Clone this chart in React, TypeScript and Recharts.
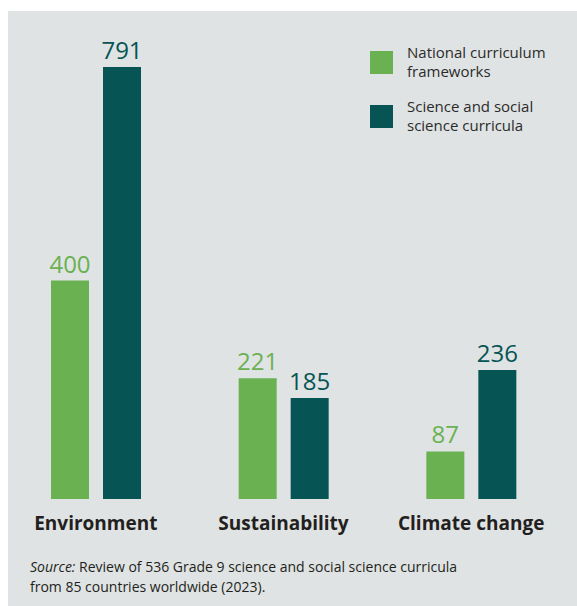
import { BarChart, Bar, XAxis, YAxis, LabelList } from "recharts";

const categories = ["Environment", "Sustainability", "Climate change"];
const nationalFrameworks = [400, 221, 87];
const scienceCurricula = [791, 185, 236];

const GREEN = "#6ab152";
const TEAL = "#065453";
const FONT = "'Open Sans', 'Noto Sans', sans-serif";

const data = categories.map((name, i) => ({
  name,
  national: nationalFrameworks[i],
  science: scienceCurricula[i],
}));

function Legend() {
  const items = [
    { color: GREEN, lines: ["National curriculum", "frameworks"] },
    { color: TEAL, lines: ["Science and social", "science curricula"] },
  ];
  return (
    <div style={{ position: "absolute", left: 370, top: 43, fontFamily: FONT }}>
      {items.map((it, i) => (
        <div key={i} style={{ display: "flex", alignItems: "center", marginBottom: 16 }}>
          <div style={{ width: 23, height: 23, background: it.color, marginRight: 14 }} />
          <div style={{ fontSize: 15, lineHeight: "19px", color: "#2b2b2b" }}>
            {it.lines.map((l) => (
              <div key={l}>{l}</div>
            ))}
          </div>
        </div>
      ))}
    </div>
  );
}

export default function App() {
  return (
    <div style={{ position: "absolute", left: 0, top: 0, width: 577, height: 606, background: "#fff" }}>
      <div style={{ position: "absolute", left: 8, top: 11, right: 0, bottom: 0, background: "#dfe3e3" }} />
      <div style={{ position: "absolute", left: 0, top: 0 }}>
        <BarChart
          width={577}
          height={606}
          data={data}
          margin={{ top: 62, right: 12, left: 2, bottom: 77 }}
          barSize={38}
          barGap={14}
        >
          <XAxis
            dataKey="name"
            axisLine={false}
            tickLine={false}
            height={30}
            tick={{ fontFamily: FONT, fontSize: 19, fontWeight: 700, fill: "#231f20" }}
            tickMargin={12}
          />
          <YAxis hide domain={[0, 800]} />
          <Bar dataKey="national" fill={GREEN} isAnimationActive={false}>
            <LabelList dataKey="national" position="top" offset={8} fill={GREEN} fontSize={24} fontFamily={FONT} />
          </Bar>
          <Bar dataKey="science" fill={TEAL} isAnimationActive={false}>
            <LabelList dataKey="science" position="top" offset={8} fill={TEAL} fontSize={24} fontFamily={FONT} />
          </Bar>
        </BarChart>
      </div>
      <Legend />
      <div
        style={{
          position: "absolute",
          left: 30,
          top: 557,
          fontFamily: FONT,
          fontSize: 14,
          lineHeight: "20px",
          color: "#231f20",
        }}
      >
        <i>Source:</i> Review of 536 Grade 9 science and social science curricula
        <br />
        from 85 countries worldwide (2023).
      </div>
    </div>
  );
}
